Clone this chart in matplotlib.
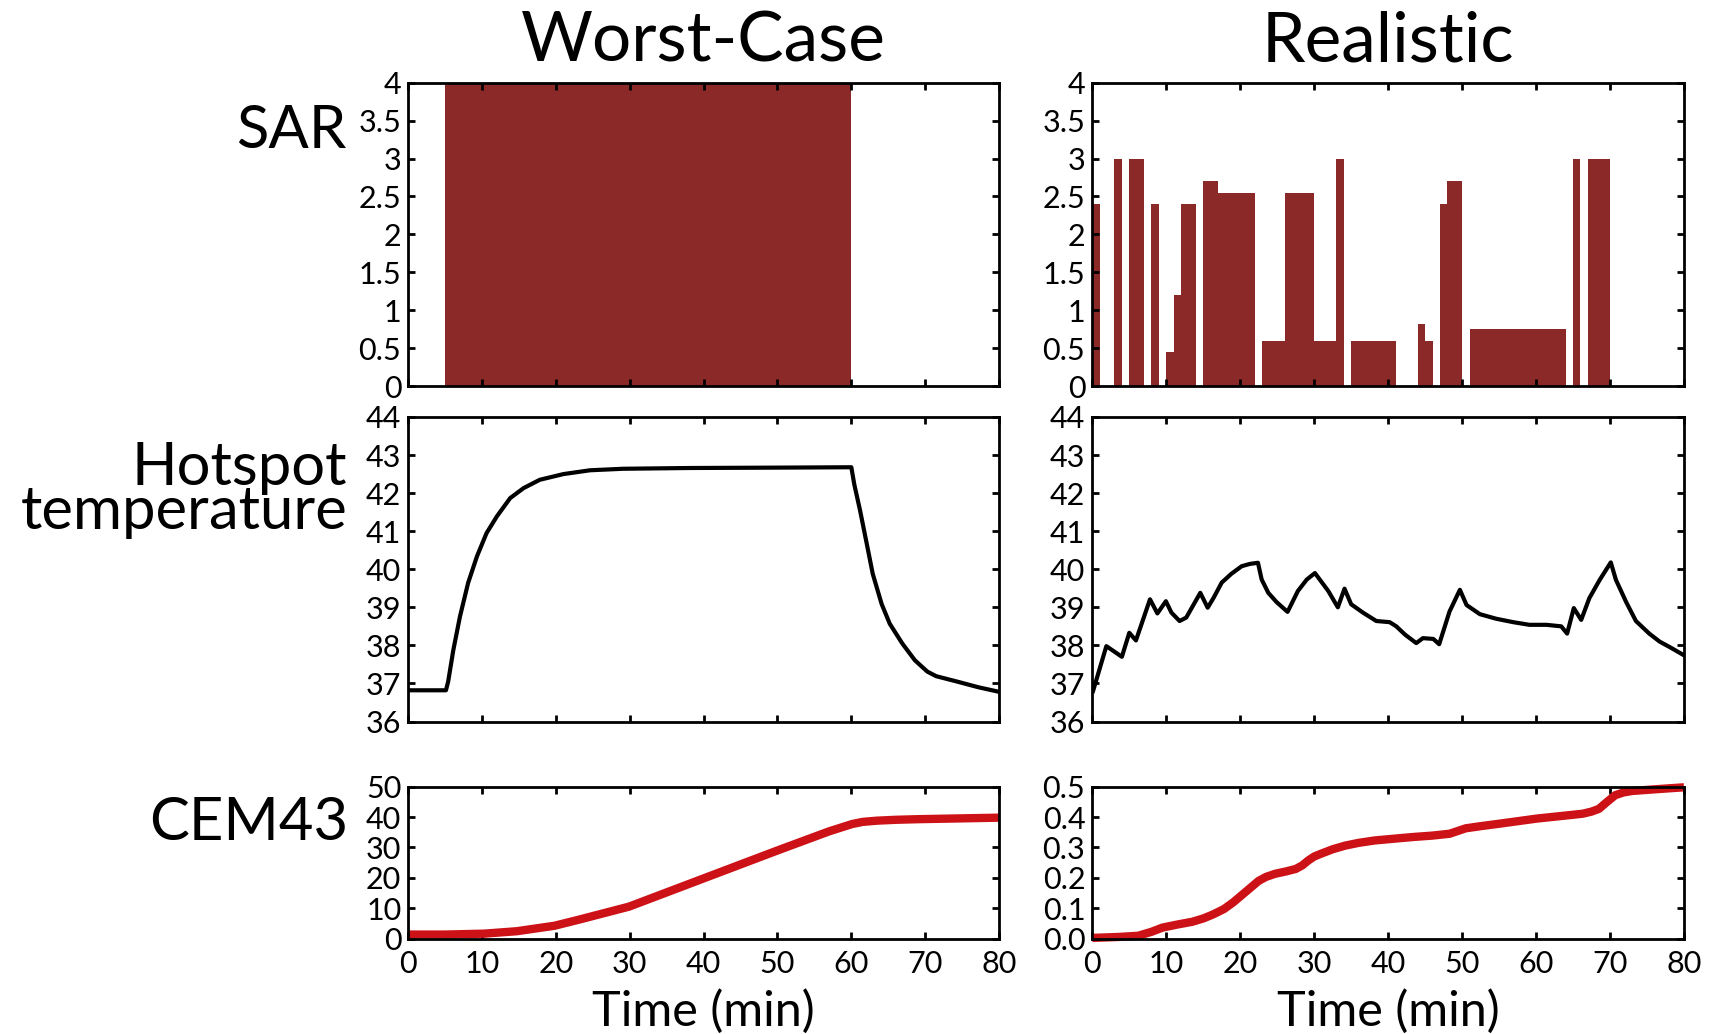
import matplotlib
matplotlib.use("Agg")
import matplotlib.pyplot as plt
from matplotlib.ticker import FixedLocator, FixedFormatter

plt.rcParams['font.family'] = ['Lato', 'DejaVu Sans']
plt.rcParams['font.weight'] = 'normal'

# ---------------- data ----------------
col_titles = ["Worst-Case", "Realistic"]
row_labels = ["SAR", "Hotspot\ntemperature", "CEM43"]
xlabel = "Time (min)"

# Worst-case SAR (one block)
wc_sar_start = [5]
wc_sar_end = [60]
wc_sar_val = [4.0]

# Realistic SAR blocks
re_sar_start = [0, 3, 5, 8, 10, 11, 12, 15, 17, 23, 26, 30, 33, 35, 44, 45, 47, 48, 51, 65, 67]
re_sar_end   = [1, 4, 7, 9, 11, 12, 14, 17, 22, 26, 30, 33, 34, 41, 45, 46, 48, 50, 64, 66, 70]
re_sar_val   = [2.4, 3.0, 3.0, 2.4, 0.45, 1.2, 2.4, 2.7, 2.55, 0.6, 2.55, 0.6, 3.0, 0.6,
                0.82, 0.6, 2.4, 2.7, 0.75, 3.0, 3.0]

# Worst-case hotspot temperature
wc_t = [0, 5.1, 5.4, 6.1, 7.0, 8.1, 9.3, 10.6, 12.0, 13.8, 15.6, 17.8, 21.0, 24.6, 29.1,
        38.1, 50, 60, 60.4, 61.2, 62.1, 62.9, 64.1, 65.2, 66.9, 68.6, 70.3, 71.5, 74.3, 77.2, 80]
wc_T = [36.82, 36.82, 37.05, 37.88, 38.76, 39.64, 40.34, 40.95, 41.39, 41.87, 42.13, 42.35,
        42.5, 42.6, 42.64, 42.66, 42.67, 42.68, 42.23, 41.53, 40.66, 39.88, 39.09, 38.57,
        38.05, 37.61, 37.31, 37.19, 37.05, 36.9, 36.78]

# Realistic hotspot temperature
re_t = [0.1, 1.9, 4.0, 5.0, 5.9, 7.8, 8.8, 9.95, 10.7, 11.8, 12.7, 14.6, 15.6, 16.4, 17.5,
        18.8, 20.2, 21.3, 22.4, 22.9, 23.8, 24.9, 26.4, 27.8, 29.0, 30.1, 31.9, 33.2, 34.1,
        35.0, 36.6, 38.4, 40.2, 41.1, 42.3, 43.8, 44.7, 46.1, 46.9, 48.3, 49.7, 50.6, 52.4,
        54.6, 56.9, 59.1, 61.4, 63.4, 64.2, 65.1, 66.1, 67.2, 68.6, 70.1, 70.8, 72.2, 73.5,
        75.3, 76.7, 78.3, 79.9]
re_T = [36.8, 37.98, 37.7, 38.33, 38.13, 39.21, 38.84, 39.16, 38.86, 38.64, 38.73, 39.38,
        38.99, 39.25, 39.65, 39.88, 40.08, 40.14, 40.17, 39.73, 39.38, 39.14, 38.88, 39.43,
        39.73, 39.9, 39.43, 39.0, 39.49, 39.08, 38.86, 38.64, 38.61, 38.5, 38.28, 38.06,
        38.19, 38.17, 38.03, 38.89, 39.46, 39.06, 38.82, 38.7, 38.61, 38.54, 38.54, 38.5,
        38.31, 38.98, 38.67, 39.24, 39.72, 40.18, 39.72, 39.13, 38.64, 38.31, 38.1, 37.93,
        37.75]

# CEM43
wc_c_t = [0, 5, 10.3, 14.7, 19.8, 23.1, 29.9, 40, 50, 57, 60.1, 61.5, 63.4, 66, 69, 80]
wc_c_v = [1.3, 1.3, 1.6, 2.4, 4.2, 6.2, 10.5, 19.8, 29, 35.3, 37.7, 38.4, 38.8, 39.1, 39.3, 39.8]

re_c_t = [0, 3.5, 6.2, 8.0, 9.5, 11.5, 13.5, 15.0, 16.3, 17.8, 19.1, 20.8, 22.5, 23.5, 24.7,
          26.2, 27.5, 28.4, 29.2, 30.0, 30.9, 32.5, 34.2, 36.0, 38.2, 43.2, 46.0, 48.3, 49.4,
          50.5, 52.5, 55.0, 60.1, 64.0, 66.3, 67.5, 68.5, 69.5, 70.7, 71.8, 73.0, 76.4, 80]
re_c_v = [0.002, 0.005, 0.009, 0.022, 0.036, 0.046, 0.055, 0.066, 0.079, 0.097, 0.12, 0.155,
          0.19, 0.203, 0.213, 0.221, 0.229, 0.241, 0.257, 0.270, 0.279, 0.294, 0.306, 0.315,
          0.323, 0.334, 0.339, 0.345, 0.354, 0.363, 0.370, 0.378, 0.395, 0.405, 0.411, 0.418,
          0.427, 0.448, 0.472, 0.481, 0.486, 0.492, 0.498]

sar_ticks = [0, 0.5, 1, 1.5, 2, 2.5, 3, 3.5, 4]
sar_ticklabels = ["0", "0.5", "1", "1.5", "2", "2.5", "3", "3.5", "4"]
temp_ticks = [36, 37, 38, 39, 40, 41, 42, 43, 44]
wc_cem_ticks = [0, 10, 20, 30, 40, 50]
re_cem_ticks = [0.0, 0.1, 0.2, 0.3, 0.4, 0.5]
x_ticks = [0, 10, 20, 30, 40, 50, 60, 70, 80]

# ---------------- styling ----------------
W, H = 1716, 1034
fig = plt.figure(figsize=(W / 100, H / 100), dpi=100)

BAR = "#8B2828"
RED = "#CC1117"
TICK_FS = 22

def box(x0, y0, x1, y1):
    return [x0 / W, 1 - y1 / H, (x1 - x0) / W, (y1 - y0) / H]

cols = [(408.3, 999.0), (1092.3, 1684.0)]
rows = [(82.7, 386.0), (417.0, 721.5), (786.7, 938.5)]

axes = [[fig.add_axes(box(c[0], r[0], c[1], r[1])) for c in cols] for r in rows]

for i, row in enumerate(axes):
    for ax in row:
        for s in ax.spines.values():
            s.set_linewidth(2.0)
        ax.set_xlim(0, 80)
        ax.set_xticks(x_ticks)
        ax.tick_params(direction='in', top=True, right=True, length=5, width=2,
                       labelsize=TICK_FS, pad=5, colors='black')
        ax.tick_params(axis='x', pad=8)
        if i < 2:
            ax.tick_params(labelbottom=False)

# SAR
for ax, st, en, val in [(axes[0][0], wc_sar_start, wc_sar_end, wc_sar_val),
                        (axes[0][1], re_sar_start, re_sar_end, re_sar_val)]:
    widths = [e - s for s, e in zip(st, en)]
    ax.bar(st, val, width=widths, align='edge', color=BAR, linewidth=0)
    ax.set_ylim(0, 4)
    ax.yaxis.set_major_locator(FixedLocator(sar_ticks))
    ax.yaxis.set_major_formatter(FixedFormatter(sar_ticklabels))

# Temperature
axes[1][0].plot(wc_t, wc_T, color='black', lw=3)
axes[1][1].plot(re_t, re_T, color='black', lw=3)
for ax in axes[1]:
    ax.set_ylim(36, 44)
    ax.set_yticks(temp_ticks)

# CEM43
axes[2][0].plot(wc_c_t, wc_c_v, color=RED, lw=6, solid_capstyle='butt')
axes[2][0].set_ylim(0, 50)
axes[2][0].set_yticks(wc_cem_ticks)
axes[2][1].plot(re_c_t, re_c_v, color=RED, lw=6, solid_capstyle='butt')
axes[2][1].set_ylim(0, 0.5)
axes[2][1].set_yticks(re_cem_ticks)
axes[2][1].set_yticklabels([f"{v:.1f}" for v in re_cem_ticks])
for ax in axes[2]:
    for ln in ax.lines:
        ln.set_clip_on(False)

# Titles and x labels
for (c0, c1), title in zip(cols, col_titles):
    fig.text((c0 + c1) / 2 / W, 1 - 61.7 / H, title, ha='center', va='baseline',
             fontsize=50)
    fig.text((c0 + c1) / 2 / W, 1 - 1026 / H, xlabel, ha='center', va='baseline',
             fontsize=35)

# Row labels
fig.text(346 / W, 1 - 148.3 / H, row_labels[0], ha='right', va='baseline', fontsize=43)
fig.text(347 / W, 1 - 490 / H, row_labels[1], ha='right', va='center', fontsize=43,
         linespacing=0.78)
fig.text(348 / W, 1 - 840 / H, row_labels[2], ha='right', va='baseline', fontsize=43)

fig.savefig("out.png", dpi=100)
